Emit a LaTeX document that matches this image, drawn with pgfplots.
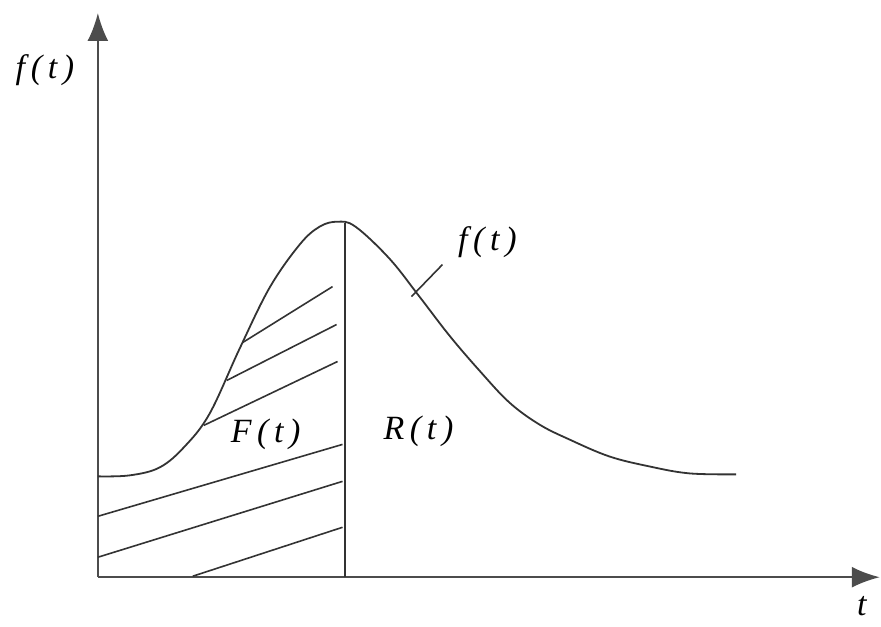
\documentclass[border=0pt]{standalone}
\usepackage{fontspec}
\setmainfont{Liberation Serif}
\usepackage{pgfplots}
\pgfplotsset{compat=1.18}
\usetikzlibrary{arrows.meta}

\begin{document}
\begin{tikzpicture}
\begin{axis}[
  x=1pt, y=1pt,
  xmin=0, xmax=881, ymin=0, ymax=627,
  hide axis, clip=false,
]
% frame for the page size
\addplot[draw=none] coordinates {(0,0)(881,627)};

% axes
\addplot[black!70, line width=2.4pt, -{Latex[length=28pt,width=21pt]}]
  coordinates {(98,49)(881,49)};
\addplot[black!70, line width=2.4pt, -{Latex[length=28pt,width=21pt]}]
  coordinates {(98,49)(98,614)};

% density curve
\addplot[black!80, line width=1.8pt, smooth, tension=0.6] coordinates {
  (98,150)(130,151)(160,159)(185,180)(210,213)(240,278)(270,339)(300,382)
  (320,400)(338,405)(356,400)(390,368)(420,330)(450,291)(480,256)(510,224)
  (540,202)(570,187)(610,170)(650,160)(690,153)(737,152)};

% split line at t
\addplot[black!80, line width=2pt] coordinates {(345,49)(345,404)};

% hatching of F(t)
\addplot[black!80, line width=1.6pt] coordinates {(243,284)(333,340)};
\addplot[black!80, line width=1.6pt] coordinates {(227,246)(337,302)};
\addplot[black!80, line width=1.6pt] coordinates {(204,201)(338,265)};
\addplot[black!80, line width=1.6pt] coordinates {(98,110)(343,182)};
\addplot[black!80, line width=1.6pt] coordinates {(98,69)(343,145)};
\addplot[black!80, line width=1.6pt] coordinates {(193,50)(343,99)};

% leader to the curve label
\addplot[black!80, line width=1.6pt] coordinates {(412,330)(443,362)};

\node[font=\fontsize{34}{38}\selectfont\itshape] at (axis cs:488,385) {f\,(\,t\,)};
\node[font=\fontsize{34}{38}\selectfont\itshape] at (axis cs:266,192) {F\,(\,t\,)};
\node[font=\fontsize{34}{38}\selectfont\itshape] at (axis cs:419,195) {R\,(\,t\,)};
\node[font=\fontsize{34}{38}\selectfont\itshape] at (axis cs:45,557) {f\,(\,t\,)};
\node[font=\fontsize{34}{38}\selectfont\itshape] at (axis cs:863,20) {t};
\end{axis}
\end{tikzpicture}
\end{document}
